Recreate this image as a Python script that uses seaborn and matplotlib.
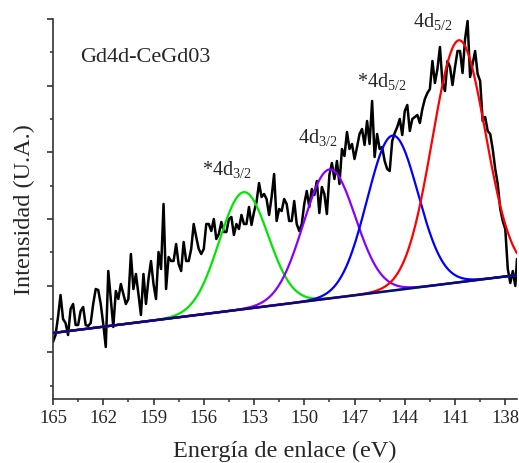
import numpy as np
import pandas as pd
import matplotlib
matplotlib.use("Agg")
import matplotlib.pyplot as plt
import seaborn as sns
from matplotlib.ticker import MultipleLocator, FixedLocator, NullFormatter

# ---------------- data ----------------
energy_start = 165.0
energy_step = 0.15
intensity = [
    57, 64, 82, 104, 80, 76, 64, 90, 95, 74,
    74, 88, 92, 74, 73, 76, 95, 110, 109, 95,
    75, 52, 128, 100, 72, 108, 100, 115, 105, 95,
    100, 145, 110, 125, 105, 84, 125, 95, 120, 138,
    115, 100, 147, 130, 195, 110, 142, 138, 138, 155,
    135, 128, 157, 138, 138, 150, 175, 162, 150, 145,
    150, 175, 175, 168, 180, 160, 165, 177, 167, 167,
    180, 182, 164, 175, 170, 184, 175, 175, 192, 174,
    187, 197, 216, 202, 205, 200, 184, 202, 225, 178,
    190, 188, 200, 195, 178, 178, 198, 175, 168, 175,
    195, 208, 192, 210, 204, 218, 186, 212, 205, 185,
    224, 236, 220, 238, 215, 250, 243, 267, 250, 255,
    240, 252, 265, 270, 254, 278, 255, 298, 242, 265,
    250, 252, 238, 230, 228, 258, 266, 272, 280, 264,
    288, 294, 268, 280, 282, 284, 276, 290, 300, 306,
    310, 338, 316, 330, 352, 316, 308, 338, 332, 314,
    332, 348, 348, 326, 360, 378, 322, 335, 348, 325,
    318, 278, 282, 268, 265, 250, 230, 215, 190, 178,
    170, 130, 116, 128, 113, 140,
]
energy = list(np.round(energy_start - energy_step * np.arange(len(intensity) - 1), 2)) + [137.3]

# linear background (endpoints)
bg_energy = [165.0, 137.3]
bg_intensity = [66.0, 124.0]

# fitted components: centre (eV), height above background, sigma (eV)
peak_names = ["*4d3/2", "4d3/2", "*4d5/2", "4d5/2"]
peak_centers = [153.62, 148.50, 144.73, 140.77]
peak_heights = [117.0, 129.0, 155.0, 242.0]
peak_sigmas = [1.46, 1.55, 1.52, 1.58]
peak_colors = ["#00e600", "#8a00ff", "#0000ff", "#ff0000"]

label_texts = [r"*4d$_{\mathregular{3/2}}$", r"4d$_{\mathregular{3/2}}$",
               r"*4d$_{\mathregular{5/2}}$", r"4d$_{\mathregular{5/2}}$"]
label_E = [156.1, 150.4, 146.85, 143.53]
label_I = [225, 257, 313, 373]

# ---------------- styling ----------------
sns.set_theme(style="ticks")
plt.rcParams["font.family"] = ["Liberation Serif", "DejaVu Serif"]
plt.rcParams["mathtext.fontset"] = "custom"
plt.rcParams["mathtext.rm"] = "Liberation Serif"
plt.rcParams["mathtext.it"] = "Liberation Serif:italic"

fig = plt.figure(figsize=(5.19, 4.64), dpi=100)
ax = fig.add_axes([53 / 519, 64 / 464, 464 / 519, 380 / 464])

df = pd.DataFrame({"E": energy, "I": intensity})
sns.lineplot(data=df, x="E", y="I", ax=ax, color="black", lw=1.8,
             estimator=None, sort=False, zorder=2)

Efit = np.linspace(bg_energy[0], bg_energy[1], 800)
bg = np.interp(Efit, bg_energy[::-1], bg_intensity[::-1])
for c, h, s, col in zip(peak_centers, peak_heights, peak_sigmas, peak_colors):
    comp = bg + h * np.exp(-((Efit - c) ** 2) / (2 * s ** 2))
    sns.lineplot(x=Efit, y=comp, ax=ax, color=col, lw=1.6,
                 estimator=None, sort=False, zorder=3)
sns.lineplot(x=Efit, y=bg, ax=ax, color="#0a0a80", lw=1.8,
             estimator=None, sort=False, zorder=4)

ax.set_xlim(165, 137.3)
ax.set_ylim(0, 380)

ax.xaxis.set_major_locator(FixedLocator([165, 162, 159, 156, 153, 150, 147, 144, 141, 138]))
ax.xaxis.set_minor_locator(MultipleLocator(1.5))
ax.yaxis.set_major_locator(FixedLocator([380, 313.3, 246.7, 180, 113.3, 46.7]))
ax.yaxis.set_minor_locator(FixedLocator([346.7, 280, 213.3, 146.7, 80, 13.3]))
ax.yaxis.set_major_formatter(NullFormatter())

ax.tick_params(axis="both", which="major", direction="out", length=4, width=1.2,
               color="#333333", labelsize=13.5, pad=3)
ax.tick_params(axis="both", which="minor", direction="out", length=2.5, width=1.1,
               color="#333333")
for side in ["top", "right"]:
    ax.spines[side].set_visible(False)
for side in ["left", "bottom"]:
    ax.spines[side].set_linewidth(1.2)
    ax.spines[side].set_color("#333333")

ax.set_xlabel("Energía de enlace (eV)", fontsize=17.5, labelpad=10)
ax.set_ylabel("Intensidad (U.A.)", fontsize=17.5, labelpad=6)

ax.text(163.37, 338, "Gd4d-CeGd03", fontsize=16, ha="left", va="baseline")
for t, e, i in zip(label_texts, label_E, label_I):
    ax.text(e, i, t, fontsize=14.5, ha="left", va="baseline")

fig.savefig("out.png", dpi=100)
